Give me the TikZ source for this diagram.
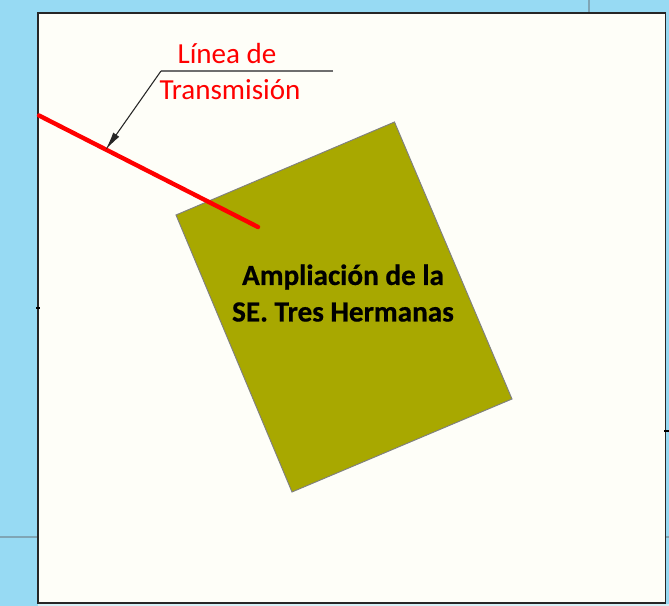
\documentclass[tikz,border=0pt]{standalone}
\usepackage{fontspec}
\setmainfont{Carlito}
\usetikzlibrary{arrows.meta}
\definecolor{skyback}{HTML}{97DAF3}
\definecolor{paper}{HTML}{FEFEF8}
\definecolor{olive}{HTML}{A8A800}
\definecolor{gridline}{HTML}{7FA5B5}
\definecolor{leadgray}{HTML}{6E6E6E}
\newfontfamily\heavyfont[FakeBold=0.6]{Carlito Bold}
\tikzset{
  px/.style={x=0.75pt,y=-0.75pt},
  gridrule/.style={draw=gridline,line width=0.9pt},
  frame/.style={fill=paper,draw=black!85,line width=1.3pt},
  plot/.style={fill=olive,draw=gray,line width=0.7pt},
  tline/.style={draw=red,line width=3.3pt,line cap=round},
  leaderline/.style={draw=leadgray,line width=1pt},
  leaderarrow/.style={draw=black!85,line width=0.8pt,-{Latex[length=14pt,width=5.5pt]}},
  tickmark/.style={draw=black,line width=1.2pt},
  redlabel/.style={text=red,font=\fontsize{21.8}{27}\selectfont,align=center,inner sep=0pt},
  mainlabel/.style={text=black,font=\fontsize{21.9}{27}\heavyfont,align=center,inner sep=0pt}
}
\begin{document}
\begin{tikzpicture}[px]
\useasboundingbox (0,0) rectangle (669,606);
\fill[skyback] (0,0) rectangle (669,606);
\fill[paper!60!skyback] (38,604) rectangle (669,606);
\coordinate (gridTopA) at (589,0);
\coordinate (gridTopB) at (589,13);
\coordinate (gridLeftA) at (0,537);
\coordinate (gridLeftB) at (38,537);
\coordinate (gridRightA) at (666,537);
\coordinate (gridRightB) at (669,537);
\draw[gridrule] (gridTopA) -- (gridTopB);
\draw[gridrule] (gridLeftA) -- (gridLeftB);
\draw[gridrule] (gridRightA) -- (gridRightB);
\draw[frame] (38,13) rectangle (665.5,603);
\coordinate (tickLeftA) at (36,308);
\coordinate (tickLeftB) at (40,308);
\coordinate (tickRightA) at (664,431);
\coordinate (tickRightB) at (669,431);
\draw[tickmark] (tickLeftA) -- (tickLeftB);
\draw[tickmark] (tickRightA) -- (tickRightB);
\draw[plot] (176,215) -- (394.5,122) -- (512,399) -- (292,492) -- cycle;
\coordinate (lineStart) at (39,115.5);
\coordinate (lineEnd) at (258,227);
\coordinate (lineHit) at (105.5,150);
\draw[tline] (lineStart) -- (lineEnd);
\coordinate (leadRight) at (333,71);
\coordinate (leadKnee) at (161,71);
\draw[leaderline] (leadRight) -- (leadKnee);
\draw[leaderarrow] (leadKnee) -- (lineHit);
\node[redlabel] (linea) at (227,53.5) {Línea de};
\node[redlabel] (trans) at (230,89.5) {Transmisión};
\node[mainlabel] (amp) at (343,277) {Ampliación de la};
\node[mainlabel] (se) at (343,312) {SE. Tres Hermanas};
\end{tikzpicture}
\end{document}
